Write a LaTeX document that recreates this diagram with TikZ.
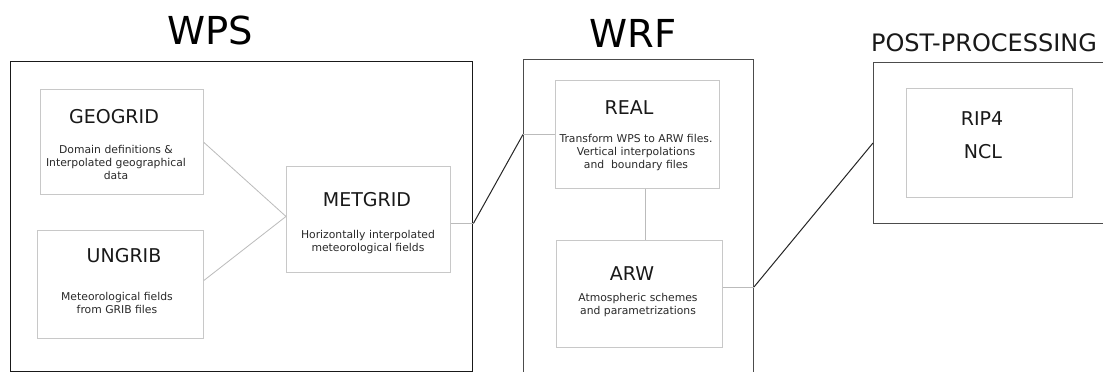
\documentclass[tikz,border=0pt]{standalone}
\usepackage{fontspec}
\setmainfont{DejaVu Sans}
\usetikzlibrary{calc}
\definecolor{inner}{HTML}{C8C8C8}
\definecolor{link}{HTML}{BBBBBB}
\definecolor{desc}{HTML}{2A2A2A}
\begin{document}
\begin{tikzpicture}[x=1pt,y=-1pt,
  outerbox/.style={draw=#1,line width=1pt,anchor=north west,inner sep=0pt},
  innerbox/.style={draw=inner,line width=0.9pt,anchor=north west,inner sep=0pt},
  bigtitle/.style={font=\fontsize{38.5}{38.5}\selectfont,text=black,inner sep=0pt},
  midtitle/.style={font=\fontsize{24}{24}\selectfont,text=black!90,inner sep=0pt},
  boxtitle/.style={font=\fontsize{19}{19}\selectfont,text=black!90,inner sep=0pt},
  desctext/.style={font=\fontsize{10.8}{13}\selectfont,text=desc,align=center,inner sep=0pt},
  thin/.style={draw=link,line width=0.8pt},
  bond/.style={draw=black!85,line width=1pt}]
\useasboundingbox (0,0) rectangle (1103,372);
\fill[white] (0,0) rectangle (1103,372);
\begin{scope}
\clip (0,0) rectangle (1103,372);
% outer boxes
\node[outerbox=black!90,line width=1.4pt,minimum width=462pt,minimum height=310pt] (wps) at (10,61) {};
\node[outerbox=black!70,minimum width=230pt,minimum height=320pt] (wrf) at (523,59) {};
\node[outerbox=black!70,minimum width=240pt,minimum height=161pt] (pp) at (873,62) {};
% titles
\node[bigtitle] (twps) at (210,30) {WPS};
\node[bigtitle] (twrf) at (633,33) {WRF};
\node[midtitle] (tpp) at (984,43) {POST-PROCESSING};
% WPS inner boxes
\node[innerbox,minimum width=163pt,minimum height=105pt] (geogrid) at (40,89) {};
\node[boxtitle] (tgeo) at (114,117) {GEOGRID};
\node[desctext] (dgeo) at (116,162) {Domain definitions \&\\Interpolated geographical\\data};
\node[innerbox,minimum width=166pt,minimum height=108pt] (ungrib) at (37,230) {};
\node[boxtitle] (tung) at (124,256) {UNGRIB};
\node[desctext] (dung) at (117,303) {Meteorological fields\\from GRIB files};
\node[innerbox,minimum width=164pt,minimum height=106pt] (metgrid) at (286,166) {};
\node[boxtitle] (tmet) at (367,200) {METGRID};
\node[desctext] (dmet) at (368,242) {Horizontally interpolated\\meteorological fields};
% WRF inner boxes
\node[innerbox,minimum width=164pt,minimum height=108pt] (real) at (555,80) {};
\node[boxtitle] (treal) at (629,108) {REAL};
\node[desctext] (dreal) at (636,153) {Transform WPS to ARW files.\\Vertical interpolations\\and\ \ boundary files};
\node[innerbox,minimum width=166pt,minimum height=107pt] (arw) at (556,240) {};
\node[boxtitle] (tarw) at (632,274) {ARW};
\node[desctext] (darw) at (638,305) {Atmospheric schemes\\and parametrizations};
% PP inner box
\node[innerbox,minimum width=166pt,minimum height=109pt] (rip) at (906,88) {};
\node[boxtitle] (trip) at (982,119) {RIP4};
\node[boxtitle] (tncl) at (983,152) {NCL};
% connectors
\coordinate (gout) at ([yshift=-0.5pt]geogrid.east);
\coordinate (uout) at ([yshift=4pt]ungrib.east);
\coordinate (min) at ([yshift=3pt]metgrid.west);
\draw[thin] (gout) -- (min);
\draw[thin] (uout) -- (min);
\coordinate (mout) at ([yshift=-4pt]metgrid.east);
\coordinate (wpsr) at (mout -| wps.east);
\coordinate (wrfl) at (real.west -| wrf.west);
\draw[thin] (mout) -- (wpsr);
\draw[bond] (wpsr) -- (wrfl);
\draw[thin] (wrfl) -- (real.west);
\draw[thin] ([xshift=8pt]real.south) -- ([xshift=8pt]real.south |- arw.north);
\coordinate (aout) at ([yshift=7pt]arw.east);
\coordinate (wrfr) at (aout -| wrf.east);
\coordinate (ppl) at (pp.west);
\draw[thin] (aout) -- (wrfr);
\draw[bond] (wrfr) -- (ppl);
\end{scope}
\end{tikzpicture}
\end{document}
